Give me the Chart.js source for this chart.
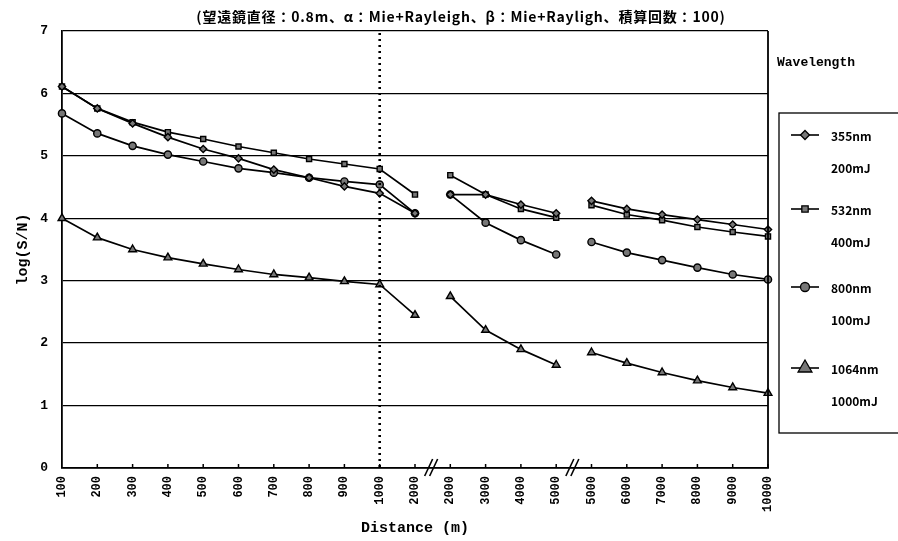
<!DOCTYPE html>
<html>
<head>
<meta charset="utf-8">
<script src="https://cdn.jsdelivr.net/npm/chart.js@4.4.0/dist/chart.umd.min.js"></script>
<style>
  body { margin: 0; background: #fff; }
  #wrap { width: 898px; height: 541px; position: relative; }
</style>
</head>
<body>
<div id="wrap"><canvas id="chart" width="898" height="541"></canvas></div>
<script>
// distance categories (m), three broken segments
const distances = ["100","200","300","400","500","600","700","800","900","1000","2000",
  "2000","3000","4000","5000",
  "5000","6000","7000","8000","9000","10000"];
const breakAfter = [10, 14];  // no line drawn between index i and i+1

const s355 = [6.11,5.76,5.52,5.30,5.11,4.96,4.78,4.65,4.51,4.40,4.08,
  4.38,4.38,4.22,4.08,
  4.28,4.15,4.06,3.98,3.90,3.82];
const s532 = [6.11,5.76,5.54,5.38,5.27,5.15,5.05,4.95,4.87,4.79,4.38,
  4.69,4.38,4.15,4.01,
  4.21,4.06,3.97,3.86,3.78,3.71];
const s800 = [5.68,5.36,5.16,5.02,4.91,4.80,4.73,4.65,4.59,4.54,4.08,
  4.38,3.93,3.65,3.42,
  3.62,3.45,3.33,3.21,3.10,3.02];
const s1064 = [4.00,3.69,3.50,3.37,3.27,3.18,3.10,3.05,2.99,2.94,2.45,
  2.75,2.21,1.90,1.65,
  1.85,1.68,1.53,1.40,1.29,1.20];

const seriesNames = ["355nm", "532nm", "800nm", "1064nm"];
const seriesEnergy = ["200mJ", "400mJ", "100mJ", "1000mJ"];
const markers = ["rectRot", "rect", "circle", "triangle"];
const yTicks = [0, 1, 2, 3, 4, 5, 6, 7];

const titleText = "(望遠鏡直径：0.8m、α：Mie+Rayleigh、β：Mie+Rayligh、積算回数：100)";
const font = "'Noto Sans CJK JP', 'DejaVu Sans', sans-serif";
const mono = "'Liberation Mono', 'DejaVu Sans Mono', monospace";

function makeSet(label, data, marker) {
  return {
    label: label,
    data: data,
    borderColor: "#000",
    borderWidth: 1.7,
    backgroundColor: "#777",
    pointStyle: marker,
    pointRadius: marker == "triangle" ? 4.5 : 3.6,
    pointBorderColor: "#000",
    pointBorderWidth: 1.4,
    tension: 0,
    segment: {
      borderColor: ctx => breakAfter.includes(ctx.p0DataIndex) ? "rgba(0,0,0,0)" : "#000"
    }
  };
}

const extras = {
  id: "extras",
  afterDraw(chart) {
    const c = chart.ctx;
    const a = chart.chartArea;
    const x = chart.scales.x;
    c.save();
    c.strokeStyle = "#000";
    c.fillStyle = "#000";

    // right frame
    c.lineWidth = 1.8;
    c.beginPath();
    c.moveTo(a.right, a.top);
    c.lineTo(a.right, a.bottom);
    c.stroke();

    // inward ticks on x axis
    c.lineWidth = 1.5;
    for (let i = 1; i < distances.length; i++) {
      const px = x.getPixelForValue(i);
      c.beginPath();
      c.moveTo(px, a.bottom);
      c.lineTo(px, a.bottom - 4);
      c.stroke();
    }

    // dotted line at 1000 m
    const px1000 = x.getPixelForValue(9);
    c.lineWidth = 2.6;
    c.setLineDash([2, 4]);
    c.beginPath();
    c.moveTo(px1000, a.top + 2);
    c.lineTo(px1000, a.bottom);
    c.stroke();
    c.setLineDash([]);

    // axis break marks
    c.lineWidth = 1.6;
    breakAfter.forEach(i => {
      const mid = (x.getPixelForValue(i) + x.getPixelForValue(i + 1)) / 2 - 1;
      [-3, 2].forEach(d => {
        c.beginPath();
        c.moveTo(mid + d - 4, a.bottom + 8);
        c.lineTo(mid + d + 4, a.bottom - 9);
        c.stroke();
      });
    });

    // title
    c.font = "bold 14px " + font;
    c.letterSpacing = "0.8px";
    c.textAlign = "center";
    c.textBaseline = "middle";
    c.fillText(titleText, 461, 17);
    c.letterSpacing = "0px";

    // legend
    c.textAlign = "left";
    c.font = "bold 13px " + mono;
    c.fillText("Wavelength", 777, 63);
    c.lineWidth = 1.3;
    c.strokeRect(779, 113, 130, 320);
    const rows = [135, 209, 287, 368];
    rows.forEach((ry, k) => {
      c.lineWidth = 1.6;
      c.beginPath();
      c.moveTo(791, ry);
      c.lineTo(819, ry);
      c.stroke();
      c.fillStyle = "#777";
      c.lineWidth = 1.3;
      Chart.helpers.drawPoint(c, {
        pointStyle: markers[k],
        radius: markers[k] == "triangle" ? 8 : 4.5,
        borderWidth: 1.3
      }, 805, ry);
      c.fillStyle = "#000";
      c.font = "bold 12px " + font;
      c.fillText(seriesNames[k], 831, ry + 1);
      c.fillText(seriesEnergy[k], 831, ry + 33);
    });
    c.restore();
  }
};

new Chart(document.getElementById("chart"), {
  type: "line",
  data: {
    labels: distances,
    datasets: [
      makeSet(seriesNames[0], s355, markers[0]),
      makeSet(seriesNames[1], s532, markers[1]),
      makeSet(seriesNames[2], s800, markers[2]),
      makeSet(seriesNames[3], s1064, markers[3])
    ]
  },
  options: {
    responsive: false,
    animation: false,
    devicePixelRatio: 1,
    layout: { padding: { left: 14, right: 130, top: 31, bottom: 0 } },
    plugins: {
      legend: { display: false },
      tooltip: { enabled: false }
    },
    scales: {
      x: {
        offset: false,
        grid: { display: false, drawTicks: false },
        border: { color: "#000", width: 1.8 },
        ticks: {
          color: "#000",
          font: { family: mono, size: 12, weight: "bold" },
          minRotation: 90,
          maxRotation: 90,
          autoSkip: false,
          padding: 8
        },
        title: {
          display: true,
          text: "Distance (m)",
          color: "#000",
          font: { family: mono, size: 15, weight: "bold" },
          padding: { top: 0, bottom: 4 }
        },
        afterFit: s => { s.height = 73; }
      },
      y: {
        min: 0,
        max: 7,
        afterBuildTicks: s => { s.ticks = yTicks.map(v => ({ value: v })); },
        grid: { color: "#000", lineWidth: 1.3, drawTicks: false },
        border: { color: "#000", width: 1.8 },
        ticks: {
          color: "#000",
          font: { family: mono, size: 13, weight: "bold" },
          padding: 14
        },
        title: {
          display: true,
          text: "log(S/N)",
          color: "#000",
          font: { family: mono, size: 15, weight: "bold" },
          padding: { top: 0, bottom: 4 }
        },
        afterFit: s => { s.width = 48; }
      }
    }
  },
  plugins: [extras]
});
</script>
</body>
</html>
